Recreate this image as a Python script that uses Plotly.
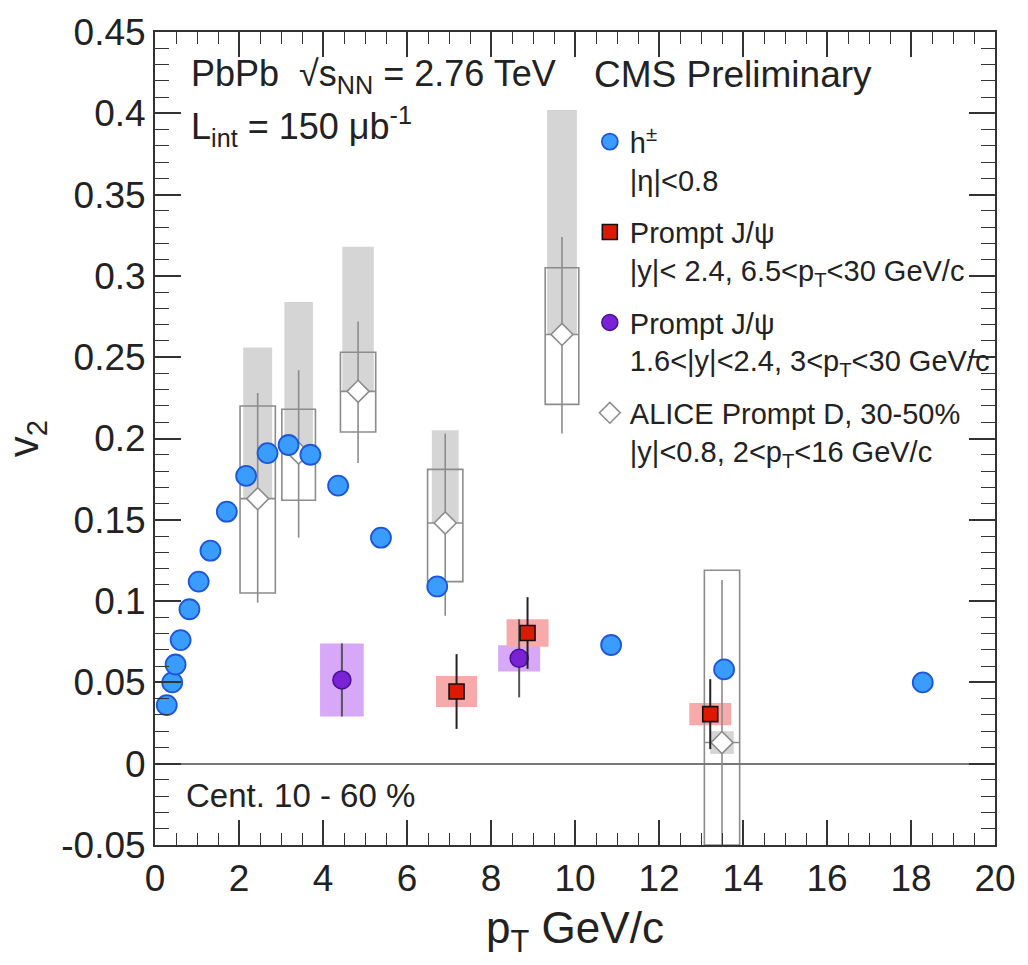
import plotly.graph_objects as go

# ---------------- data ----------------
# charged hadrons, |eta|<0.8
h_pt = [0.28, 0.41, 0.49, 0.61, 0.82, 1.04, 1.32, 1.71, 2.17, 2.68, 3.18, 3.70, 4.36, 5.38, 6.72, 10.86, 13.55, 18.28]
h_v2 = [0.036, 0.050, 0.061, 0.076, 0.095, 0.112, 0.131, 0.155, 0.177, 0.191, 0.196, 0.190, 0.171, 0.139, 0.109, 0.073, 0.058, 0.050]

# CMS prompt J/psi, |y|<2.4, 6.5<pT<30
jm_pt = [7.18, 8.87, 13.22]
jm_v2 = [0.0444, 0.0804, 0.0305]
jm_stat = [0.023, 0.022, 0.0215]
jm_sys = [0.0095, 0.0084, 0.0068]
jm_hw = [0.49, 0.50, 0.50]

# CMS prompt J/psi, 1.6<|y|<2.4, 3<pT<30
jf_pt = [4.45, 8.67]
jf_v2 = [0.0515, 0.0648]
jf_stat = [0.0225, 0.024]
jf_sys = [0.0225, 0.0081]
jf_hw = [0.52, 0.50]

# ALICE prompt D, 30-50 %
d_pt = [2.445, 3.42, 4.835, 6.91, 9.69, 13.5]
d_v2 = [0.163, 0.191, 0.229, 0.148, 0.264, 0.013]
d_stat_hi = [0.228, 0.242, 0.272, 0.203, 0.324, 0.113]
d_stat_lo = [0.099, 0.139, 0.185, 0.091, 0.203, -0.090]
d_sys_lo = [0.105, 0.162, 0.204, 0.112, 0.221, -0.100]
d_sys_hi = [0.220, 0.218, 0.253, 0.181, 0.305, 0.119]
d_hw = [0.42, 0.40, 0.42, 0.42, 0.40, 0.42]
d_fd_lo = [0.163, 0.191, 0.229, 0.148, 0.264, 0.006]
d_fd_hi = [0.256, 0.284, 0.318, 0.205, 0.402, 0.020]
d_fd_hw = [0.345, 0.34, 0.375, 0.32, 0.355, 0.28]

x_ticks = [0, 2, 4, 6, 8, 10, 12, 14, 16, 18, 20]
y_ticks = [-0.05, 0, 0.05, 0.1, 0.15, 0.2, 0.25, 0.3, 0.35, 0.4, 0.45]
y_ticktext = ["-0.05", "0", "0.05", "0.1", "0.15", "0.2", "0.25", "0.3", "0.35", "0.4", "0.45"]

FONT = "Liberation Sans, Arial, Helvetica, sans-serif"
Y_MIN, Y_MAX = -0.05, 0.45

fig = go.Figure()
shapes = []

# ALICE feed-down (grey filled) boxes
for x, lo, hi, hw in zip(d_pt, d_fd_lo, d_fd_hi, d_fd_hw):
    shapes.append(dict(type="rect", xref="x", yref="y", x0=x - hw, x1=x + hw,
                       y0=max(lo, Y_MIN), y1=hi, fillcolor="#d5d5d5",
                       line=dict(width=0), layer="below"))
# CMS systematic boxes
for x, y, s, hw in zip(jf_pt, jf_v2, jf_sys, jf_hw):
    shapes.append(dict(type="rect", xref="x", yref="y", x0=x - hw, x1=x + hw,
                       y0=y - s, y1=y + s, fillcolor="#d8a8f8",
                       line=dict(width=0), layer="below"))
for x, y, s, hw in zip(jm_pt, jm_v2, jm_sys, jm_hw):
    shapes.append(dict(type="rect", xref="x", yref="y", x0=x - hw, x1=x + hw,
                       y0=y - s, y1=y + s, fillcolor="#f8aaaa",
                       line=dict(width=0), layer="below"))
# ALICE systematic open boxes
for x, lo, hi, hw in zip(d_pt, d_sys_lo, d_sys_hi, d_hw):
    shapes.append(dict(type="rect", xref="x", yref="y", x0=x - hw, x1=x + hw,
                       y0=max(lo, Y_MIN), y1=hi, fillcolor="rgba(0,0,0,0)",
                       line=dict(width=1.6, color="#8c8c8c"), layer="below"))

# ALICE D
fig.add_trace(go.Scatter(
    x=d_pt, y=d_v2, mode="markers",
    name="ALICE Prompt D, 30-50%<br>|y|&lt;0.8, 2&lt;p<sub>T</sub>&lt;16 GeV/c",
    marker=dict(symbol="diamond", size=17, color="white", line=dict(color="#8c8c8c", width=1.6)),
    error_y=dict(type="data", symmetric=False,
                 array=[h - v for h, v in zip(d_stat_hi, d_v2)],
                 arrayminus=[v - l for v, l in zip(d_v2, d_stat_lo)],
                 color="#8c8c8c", thickness=1.6, width=0),
    error_x=dict(type="data", array=d_hw, color="#8c8c8c", thickness=1.6, width=0),
    legendrank=4, legendgroup="d",
))

# charged hadrons
fig.add_trace(go.Scatter(
    x=h_pt, y=h_v2, mode="markers",
    name="h<sup>±</sup><br>|η|&lt;0.8",
    marker=dict(symbol="circle", size=20, color="#3a9cff", line=dict(color="#1f56d8", width=1.8)),
    legendrank=1, legendgroup="h",
))

# forward J/psi
fig.add_trace(go.Scatter(
    x=jf_pt, y=jf_v2, mode="markers",
    name="Prompt J/ψ<br>1.6&lt;|y|&lt;2.4, 3&lt;p<sub>T</sub>&lt;30 GeV/c",
    marker=dict(symbol="circle", size=18, color="#7a22d6", line=dict(color="#4a1090", width=1.5)),
    error_y=dict(type="data", array=jf_stat, color="#555555", thickness=2, width=0),
    legendrank=3, legendgroup="jf",
))

# mid-rapidity J/psi
fig.add_trace(go.Scatter(
    x=jm_pt, y=jm_v2, mode="markers",
    name="Prompt J/ψ<br>|y|&lt; 2.4, 6.5&lt;p<sub>T</sub>&lt;30 GeV/c",
    marker=dict(symbol="square", size=15, color="#dd1a00", line=dict(color="#111111", width=1.6)),
    error_y=dict(type="data", array=jm_stat, color="#222222", thickness=2, width=0),
    legendrank=2, legendgroup="jm",
))


def px(xp):
    return (xp - 155) / 850.0


def py(yp):
    return (844.5 - yp) / 825.0


annotations = [
    dict(text="PbPb  √s<sub>NN</sub> = 2.76 TeV", x=px(189), y=py(64), xanchor="left", yanchor="middle",
         font=dict(size=36, color="#222")),
    dict(text="L<sub>int</sub> = 150 μb<sup>-1</sup>", x=px(189), y=py(115), xanchor="left", yanchor="middle",
         font=dict(size=36, color="#222")),
    dict(text="CMS Preliminary", x=px(597), y=py(63), xanchor="left", yanchor="middle",
         font=dict(size=37, color="#222")),
    dict(text="Cent. 10 - 60 %", x=px(184), y=py(794), xanchor="left", yanchor="middle",
         font=dict(size=33, color="#222")),
]
for a in annotations:
    a.update(xref="paper", yref="paper", showarrow=False)

axis_common = dict(
    showgrid=False, showline=True, linecolor="#333333", linewidth=2, mirror="allticks",
    ticks="inside", tickcolor="#333333", tickwidth=1.6,
    tickfont=dict(size=37, color="#222", family=FONT),
    ticklabeloverflow="allow",
)

fig.update_layout(
    width=1028, height=965,
    margin=dict(l=155, r=23, t=20, b=120),
    paper_bgcolor="white", plot_bgcolor="white",
    font=dict(family=FONT, color="#222"),
    shapes=shapes, annotations=annotations,
    xaxis=dict(range=[0, 20], tickvals=x_ticks, ticklen=25,
               minor=dict(dtick=0.5, ticklen=12, ticks="inside", tickcolor="#333333", tickwidth=1.4, showgrid=False),
               title=dict(text="p<sub>T</sub> GeV/c", font=dict(size=44, color="#222"), standoff=14),
               zeroline=False, **axis_common),
    yaxis=dict(range=[Y_MIN, Y_MAX], tickvals=y_ticks, ticktext=y_ticktext, ticklen=26,
               minor=dict(dtick=0.01, ticklen=14, ticks="inside", tickcolor="#333333", tickwidth=1.4, showgrid=False),
               title=dict(text="v<sub>2</sub>", font=dict(size=42, color="#222"), standoff=14),
               zeroline=True, zerolinecolor="#777777", zerolinewidth=2, **axis_common),
    showlegend=True,
    legend=dict(x=px(595), y=py(105), xanchor="left", yanchor="top", valign="top",
                bgcolor="rgba(0,0,0,0)", font=dict(size=29, color="#222"),
                tracegroupgap=12, itemsizing="trace"),
)

fig.write_html("out.html")
